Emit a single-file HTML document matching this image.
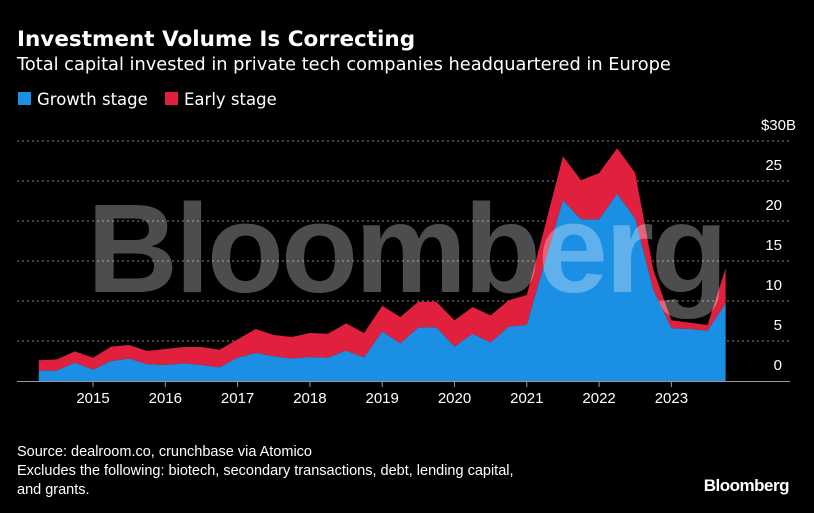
<!DOCTYPE html>
<html><head><meta charset="utf-8"><style>
body{margin:0;background:#000;width:814px;height:513px;overflow:hidden;font-family:"Liberation Sans",sans-serif;color:#fff}
svg{position:absolute;left:0;top:0}
</style></head><body>
<svg width="814" height="513">
<text x="17" y="46" font-size="21.5" font-weight="bold" font-family="DejaVu Sans, sans-serif" fill="#fff">Investment Volume Is Correcting</text>
<text x="17" y="70" font-size="17.8" font-family="DejaVu Sans, sans-serif" fill="#fff">Total capital invested in private tech companies headquartered in Europe</text>
<g font-family="DejaVu Sans, sans-serif">
<rect x="18" y="92" width="13" height="13" fill="#1a8fe3"/>
<text x="37" y="105" font-size="16.5" fill="#fff">Growth stage</text>
<rect x="165" y="92" width="13" height="13" fill="#e0203c"/>
<text x="184" y="105" font-size="16.5" fill="#fff">Early stage</text>
</g>
<g id="grid"></g>
<g id="areas"></g>
<g id="axis"></g>
<text x="406" y="292" font-size="126" font-weight="bold" letter-spacing="-3" text-anchor="middle" fill="#fff" fill-opacity="0.3">Bloomberg</text>
<text x="17" y="456" font-size="14.5" fill="#fff">Source: dealroom.co, crunchbase via Atomico</text>
<text x="17" y="475" font-size="14.5" fill="#fff">Excludes the following: biotech, secondary transactions, debt, lending capital,</text>
<text x="17" y="494" font-size="14.5" fill="#fff">and grants.</text>
<text x="789" y="491" font-size="17" font-weight="bold" text-anchor="end" fill="#fff" letter-spacing="-0.5">Bloomberg</text>
</svg>
<script>
const startYear = 2014.25;
const growth = [1.3,1.3,2.3,1.4,2.5,2.8,2.1,2.0,2.2,2.0,1.7,2.9,3.5,3.1,2.8,3.0,2.9,3.8,2.95,6.2,4.7,6.7,6.7,4.3,5.9,4.8,6.8,7.0,14.9,22.6,20.2,20.2,23.4,20.3,11.4,6.6,6.5,6.3,9.7];
const total = [2.6,2.7,3.7,2.9,4.3,4.5,3.75,4.0,4.25,4.25,3.9,5.2,6.5,5.75,5.5,6.0,5.9,7.2,6.0,9.4,8.0,9.9,9.9,7.6,9.25,8.2,10.1,10.75,19.3,28.1,25.1,26.0,29.1,26.0,13.9,7.6,7.3,7.0,14.1];
const yTicks = [0,5,10,15,20,25,30];
const xYears = [2015,2016,2017,2018,2019,2020,2021,2022,2023];
const NS='http://www.w3.org/2000/svg';
const xs = t => 93 + (t-2015)*72.3;
const ys = v => 381 - v*8;
function mk(tag, attrs, parent){const e=document.createElementNS(NS,tag);for(const k in attrs)e.setAttribute(k,attrs[k]);parent.appendChild(e);return e;}
const grid=document.getElementById('grid'), areas=document.getElementById('areas'), axis=document.getElementById('axis');
yTicks.forEach(v=>{
  if(v>0){const l=mk('line',{x1:17,x2:790,y1:ys(v),y2:ys(v),stroke:'#888','stroke-width':1,'stroke-dasharray':'2,3'},grid);
  
  }
  const t=mk('text',{x:v===30?796:782,y:ys(v)-11,'font-size':15,fill:'#fff','text-anchor':'end'},grid);
  t.textContent=v===30?'$30B':String(v);
  
  
});
const xq = i => xs(startYear + i*0.25);
function areaPath(top, bot){
  let d='M'+xq(0)+','+ys(top[0]);
  for(let i=1;i<top.length;i++) d+='L'+xq(i)+','+ys(top[i]);
  for(let i=top.length-1;i>=0;i--) d+='L'+xq(i)+','+ys(bot?bot[i]:0);
  return d+'Z';
}
const early=mk('path',{d:areaPath(total,growth),fill:'#e0203c'},areas);


const gr=mk('path',{d:areaPath(growth,null),fill:'#1a8fe3'},areas);


const base=mk('line',{x1:17,x2:790,y1:381.5,y2:381.5,stroke:'#999','stroke-width':1},axis);


xYears.forEach(y=>{
  const tk=mk('line',{x1:xs(y),x2:xs(y),y1:381,y2:387,stroke:'#999'},axis);
  
  
  const t=mk('text',{x:xs(y),y:403,'font-size':15,fill:'#fff','text-anchor':'middle'},axis);
  t.textContent=String(y);
  
  
});
</script>
</body></html>
